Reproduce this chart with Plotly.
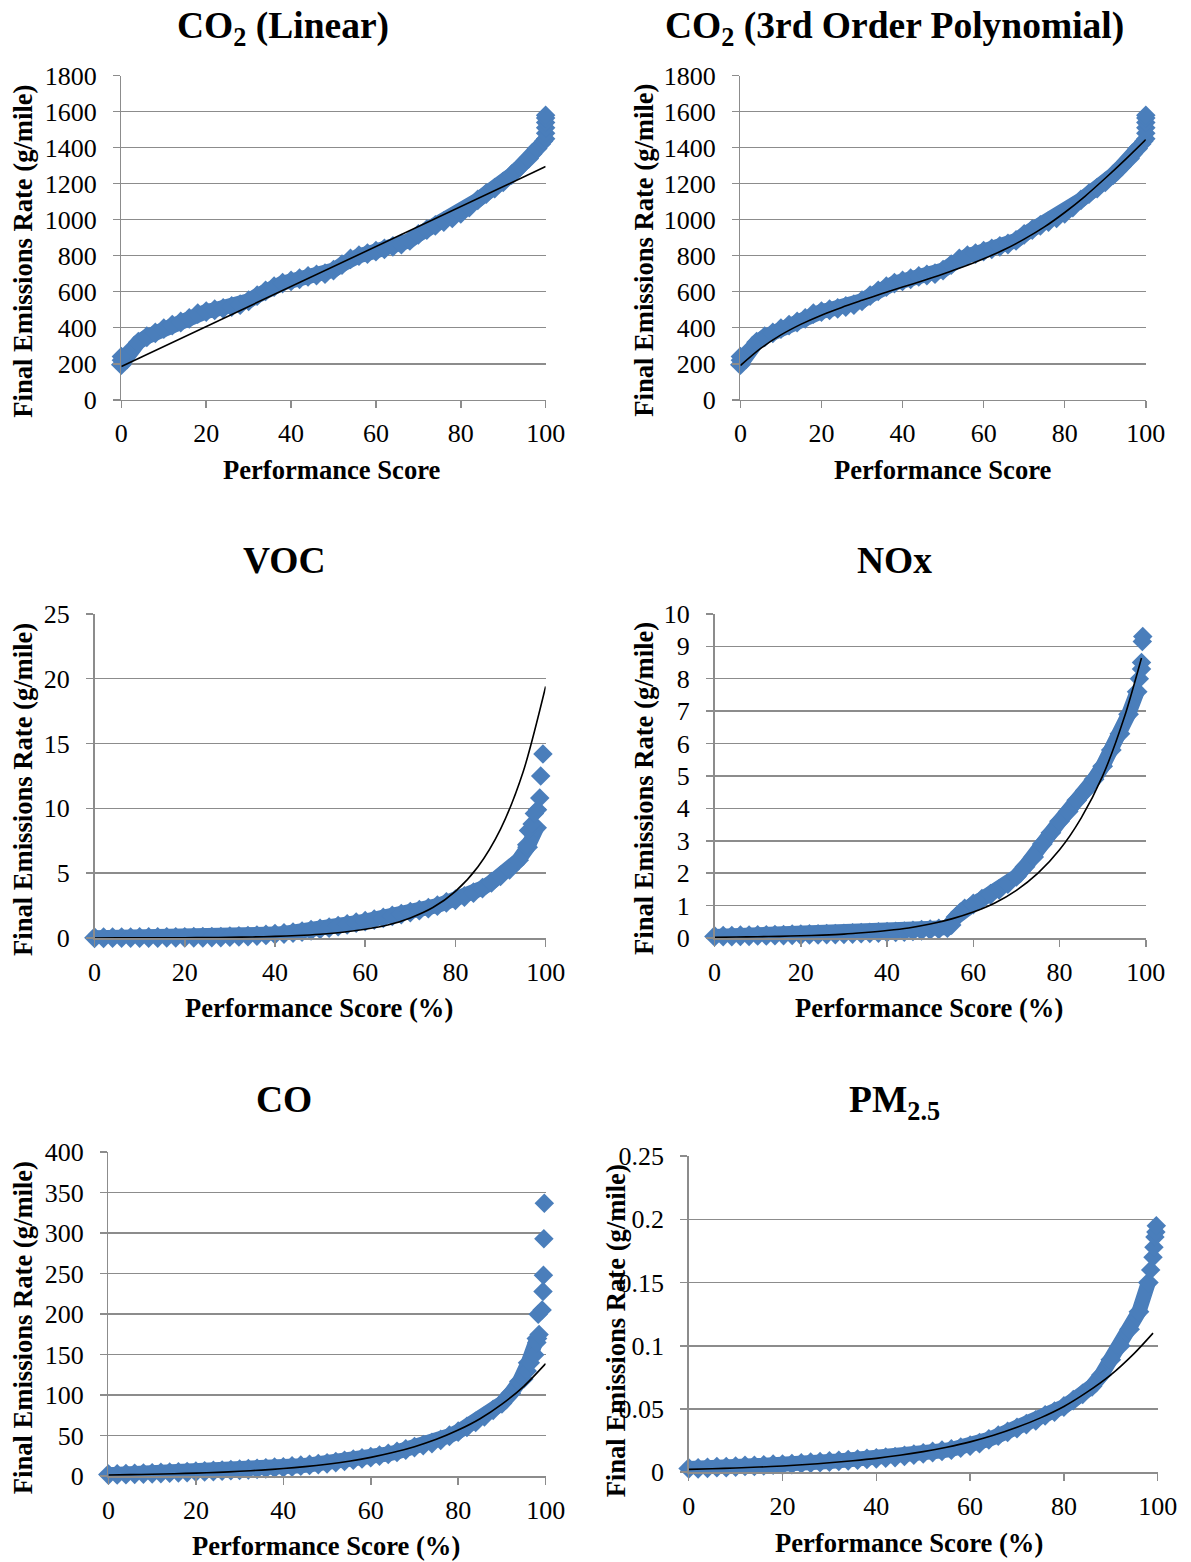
import plotly.graph_objects as go

# ---------------- data ----------------
SCORE = [0, 2, 4, 6, 8, 10, 12, 14, 16, 18, 20, 22, 24, 26, 28, 30, 32, 34, 36, 38,
         40, 42, 44, 46, 48, 50, 52, 54, 56, 58, 60, 62, 64, 66, 68, 70, 72, 74, 76, 78,
         80, 82, 84, 86, 88, 90, 92, 94, 96, 98]

CO2 = [195, 270, 320, 350, 372, 395, 415, 432, 452, 478, 490, 500, 508, 518, 528, 550, 578, 605, 628, 648,
       660, 672, 685, 693, 700, 720, 750, 782, 800, 812, 825, 838, 852, 865, 885, 918, 945, 968, 990, 1010,
       1035, 1070, 1110, 1145, 1175, 1210, 1250, 1295, 1340, 1395]
CO2_TAIL_X = [0, 0, 99, 99.5, 100, 100, 100, 100, 100, 100]
CO2_TAIL_Y = [220, 240, 1420, 1435, 1450, 1480, 1510, 1540, 1565, 1580]

VOC = [0.02, 0.02, 0.03, 0.03, 0.03, 0.04, 0.04, 0.04, 0.05, 0.05, 0.05, 0.06, 0.06, 0.07, 0.07, 0.1, 0.12, 0.15, 0.19, 0.24,
       0.3, 0.35, 0.42, 0.5, 0.6, 0.7, 0.8, 0.92, 1.05, 1.18, 1.3, 1.42, 1.55, 1.7, 1.85, 2.0, 2.15, 2.3, 2.5, 2.75,
       2.95, 3.2, 3.5, 3.85, 4.3, 4.8, 5.3, 6.0, 7.0, 8.5]
VOC_TAIL_X = [95.8, 96.2, 97, 97.5, 98.2, 98.7, 98.9, 99.4]
VOC_TAIL_Y = [7.2, 8.3, 8.8, 9.6, 9.9, 10.8, 12.5, 14.2]

NOX = [0.05, 0.06, 0.06, 0.07, 0.07, 0.08, 0.08, 0.09, 0.09, 0.1, 0.1, 0.11, 0.11, 0.12, 0.12, 0.13, 0.14, 0.15, 0.16, 0.17,
       0.18, 0.19, 0.2, 0.22, 0.24, 0.26, 0.28, 0.32, 0.65, 0.9, 1.05, 1.2, 1.35, 1.5, 1.68, 1.9, 2.2, 2.5, 2.9, 3.25,
       3.6, 3.9, 4.25, 4.55, 4.9, 5.3, 5.8, 6.3, 6.9, 7.6]
NOX_TAIL_X = [55, 57, 98.5, 99, 99, 99.2, 99.3]
NOX_TAIL_Y = [0.4, 0.8, 8.0, 8.3, 8.5, 9.15, 9.3]

CO = [2, 2.3, 2.6, 3, 3.3, 3.6, 4, 4.4, 4.8, 5.2, 5.6, 6, 6.5, 7, 7.5, 8, 8.6, 9.2, 9.8, 10.5,
      11, 12, 13, 14, 15, 16, 17.5, 19, 20.5, 22, 23.5, 25.5, 27.5, 30, 33, 36, 38.5, 41, 45, 50,
      55, 61, 67, 74, 82, 90, 102, 117, 140, 170]
CO_TAIL_X = [95, 95.8, 96.5, 97.5, 98, 98.3, 98.5, 99.2, 99.4, 99.5, 99.6, 99.7]
CO_TAIL_Y = [120, 130, 140, 150, 165, 200, 175, 205, 228, 248, 293, 337]

PM25 = [0.003, 0.003, 0.0035, 0.004, 0.004, 0.0045, 0.005, 0.005, 0.0055, 0.006, 0.006, 0.0065, 0.007, 0.0075, 0.008,
        0.0085, 0.009, 0.0095, 0.01, 0.0105, 0.011, 0.0115, 0.012, 0.013, 0.014, 0.015, 0.016, 0.017, 0.018, 0.0195,
        0.021, 0.023, 0.026, 0.029, 0.032, 0.035, 0.038, 0.041, 0.045, 0.048, 0.052, 0.057, 0.062, 0.068, 0.077,
        0.089, 0.1, 0.113, 0.127, 0.15]
PM25_TAIL_X = [98.5, 99, 99.2, 99.4, 99.6, 99.7]
PM25_TAIL_Y = [0.16, 0.17, 0.178, 0.186, 0.19, 0.195]

# trend lines
LIN_X = [0, 100]
CO2_LIN = [185, 1295]

TREND_X = [0, 5, 10, 15, 20, 25, 30, 35, 40, 45, 50, 55, 60, 65, 70, 75, 80, 85, 90, 95, 100]
CO2_POLY = [190, 285, 360, 420, 470, 513, 552, 590, 626, 661, 698, 738, 783, 833, 892, 960, 1040, 1130, 1230, 1335, 1445]
VOC_TREND = [0.004, 0.007, 0.01, 0.016, 0.024, 0.036, 0.055, 0.083, 0.125, 0.19, 0.29, 0.44, 0.67, 1.0, 1.55, 2.35,
             3.6, 5.5, 8.4, 12.8, 19.4]
NOX_TREND_X = [0, 5, 10, 15, 20, 25, 30, 35, 40, 45, 50, 55, 60, 65, 70, 75, 80, 85, 90, 95, 99]
NOX_TREND = [0.02, 0.03, 0.04, 0.05, 0.07, 0.09, 0.12, 0.17, 0.23, 0.31, 0.43, 0.59, 0.8, 1.08, 1.47, 2.0, 2.72,
             3.7, 5.0, 6.8, 8.64]
CO_TREND = [1.6, 2.0, 2.5, 3.1, 3.9, 4.8, 6.1, 7.6, 9.5, 11.9, 14.9, 18.6, 23.3, 29.2, 36.5, 45.6, 57, 71, 89, 111, 139]
PM25_TREND_X = [0, 5, 10, 15, 20, 25, 30, 35, 40, 45, 50, 55, 60, 65, 70, 75, 80, 85, 90, 95, 99]
PM25_TREND = [0.0023, 0.0028, 0.0034, 0.0041, 0.005, 0.0061, 0.0075, 0.0091, 0.011, 0.0134, 0.0163, 0.0198, 0.024,
              0.0292, 0.0355, 0.043, 0.052, 0.0635, 0.077, 0.094, 0.110]

TITLES = ["CO<sub>2</sub> (Linear)", "CO<sub>2</sub> (3rd Order Polynomial)", "VOC", "NOx", "CO", "PM<sub>2.5</sub>"]
X_TITLES = ["Performance Score", "Performance Score", "Performance Score (%)", "Performance Score (%)",
            "Performance Score (%)", "Performance Score (%)"]
Y_TITLE = "Final Emissions Rate (g/mile)"
Y_MAX = [1800, 1800, 25, 10, 400, 0.25]
Y_DTICK = [200, 200, 5, 1, 50, 0.05]
X_TICKS = [0, 20, 40, 60, 80, 100]

# ---------------- layout geometry (target pixels in the photographed page) ----------------
W, H = 1191, 1562
# the page photograph comes out slightly shrunk and shifted; map target pixels back
SX, OX, SY, OY = 0.9836, 3.9, 0.981, 14.4


def px(v):
    return (v - OX) / SX


def py(v):
    return (v - OY) / SY


# (left, right, top, bottom) of each plot area in target pixels
PANELS = [(119, 546, 76, 400), (742, 1150, 76, 400),
          (92, 546, 614, 938), (716, 1150, 614, 938),
          (106, 546, 1152, 1476), (690, 1162, 1156, 1472)]
TITLE_POS = [(282, 29), (897, 29), (283, 561), (897, 561), (283, 1099), (897, 1102)]
XT_POS = [(331, 470), (946, 470), (318, 1008), (932, 1008), (325, 1546), (912, 1543)]
YT_POS = [(20, 251), (645, 251), (20, 789), (645, 789), (20, 1327), (617, 1331)]

BLUE = "#4a7ebb"
GRID = "#8c8c8c"
FONT = "Liberation Serif"
TICK_SIZE = 26
TITLE_SIZE = 37.5
AXIS_TITLE_SIZE = 26.6

fig = go.Figure()

series = [
    (SCORE, CO2, CO2_TAIL_X, CO2_TAIL_Y, LIN_X, CO2_LIN, "linear"),
    (SCORE, CO2, CO2_TAIL_X, CO2_TAIL_Y, TREND_X, CO2_POLY, "spline"),
    (SCORE, VOC, VOC_TAIL_X, VOC_TAIL_Y, TREND_X, VOC_TREND, "spline"),
    (SCORE, NOX, NOX_TAIL_X, NOX_TAIL_Y, NOX_TREND_X, NOX_TREND, "spline"),
    (SCORE, CO, CO_TAIL_X, CO_TAIL_Y, TREND_X, CO_TREND, "spline"),
    (SCORE, PM25, PM25_TAIL_X, PM25_TAIL_Y, PM25_TREND_X, PM25_TREND, "spline"),
]

annotations = []
for i, (sx, sy, tx, ty, lx, ly, shape) in enumerate(series):
    n = "" if i == 0 else str(i + 1)
    xa, ya = "x" + n, "y" + n
    # dense observed band: markers joined by a thick stroke of the same colour
    fig.add_trace(go.Scatter(x=sx, y=sy, mode="lines+markers", xaxis=xa, yaxis=ya,
                             line=dict(color=BLUE, width=15),
                             marker=dict(symbol="diamond", size=16, color=BLUE, line=dict(width=0)),
                             cliponaxis=False, hoverinfo="skip"))
    fig.add_trace(go.Scatter(x=tx, y=ty, mode="markers", xaxis=xa, yaxis=ya,
                             marker=dict(symbol="diamond", size=15, color=BLUE, line=dict(width=0)),
                             cliponaxis=False, hoverinfo="skip"))
    fig.add_trace(go.Scatter(x=lx, y=ly, mode="lines", xaxis=xa, yaxis=ya,
                             line=dict(color="black", width=1.6, shape=shape, smoothing=0.8),
                             cliponaxis=False, hoverinfo="skip"))
    l, r, t, b = PANELS[i]
    fig.layout["xaxis" + n] = dict(
        domain=[px(l) / W, px(r) / W], anchor=ya, range=[0, 100], tickvals=X_TICKS,
        showgrid=False, zeroline=False, showline=True, linecolor=GRID, linewidth=1.5,
        ticks="outside", ticklen=7, tickwidth=1.5, tickcolor=GRID, ticklabelstandoff=3,
        tickfont=dict(family=FONT, size=TICK_SIZE, color="black"), fixedrange=True)
    fig.layout["yaxis" + n] = dict(
        domain=[1 - py(b) / H, 1 - py(t) / H], anchor=xa, range=[0, Y_MAX[i]], dtick=Y_DTICK[i], tick0=0,
        showgrid=True, gridcolor=GRID, gridwidth=1.5, zeroline=False,
        showline=True, linecolor=GRID, linewidth=1.5,
        ticks="outside", ticklen=7, tickwidth=1.5, tickcolor=GRID, ticklabelstandoff=11,
        tickfont=dict(family=FONT, size=TICK_SIZE, color="black"), fixedrange=True)

    annotations.append(dict(text="<b>" + TITLES[i] + "</b>",
                            x=px(TITLE_POS[i][0]) / W, y=1 - py(TITLE_POS[i][1]) / H,
                            xref="paper", yref="paper", xanchor="center", yanchor="middle", showarrow=False,
                            font=dict(family=FONT, size=TITLE_SIZE, color="black")))
    annotations.append(dict(text="<b>" + X_TITLES[i] + "</b>",
                            x=px(XT_POS[i][0]) / W, y=1 - py(XT_POS[i][1]) / H,
                            xref="paper", yref="paper", xanchor="center", yanchor="middle", showarrow=False,
                            font=dict(family=FONT, size=AXIS_TITLE_SIZE, color="black")))
    annotations.append(dict(text="<b>" + Y_TITLE + "</b>",
                            x=px(YT_POS[i][0]) / W, y=1 - py(YT_POS[i][1]) / H,
                            xref="paper", yref="paper", xanchor="center", yanchor="middle", showarrow=False,
                            textangle=-90, font=dict(family=FONT, size=AXIS_TITLE_SIZE, color="black")))

fig.update_layout(width=W, height=H, margin=dict(l=0, r=0, t=0, b=0),
                  font=dict(family=FONT, color="black"),
                  paper_bgcolor="white", plot_bgcolor="white", showlegend=False,
                  annotations=annotations)

POST = """
var gd = document.getElementById('{plot_id}');
document.documentElement.style.margin = '0';
document.body.style.margin = '0';
document.documentElement.style.overflow = 'hidden';
gd.style.position = 'absolute';
gd.style.left = '0px';
gd.style.top = '0px';
"""

fig.write_html("out.html", post_script=POST, config={"displayModeBar": False, "staticPlot": True})
